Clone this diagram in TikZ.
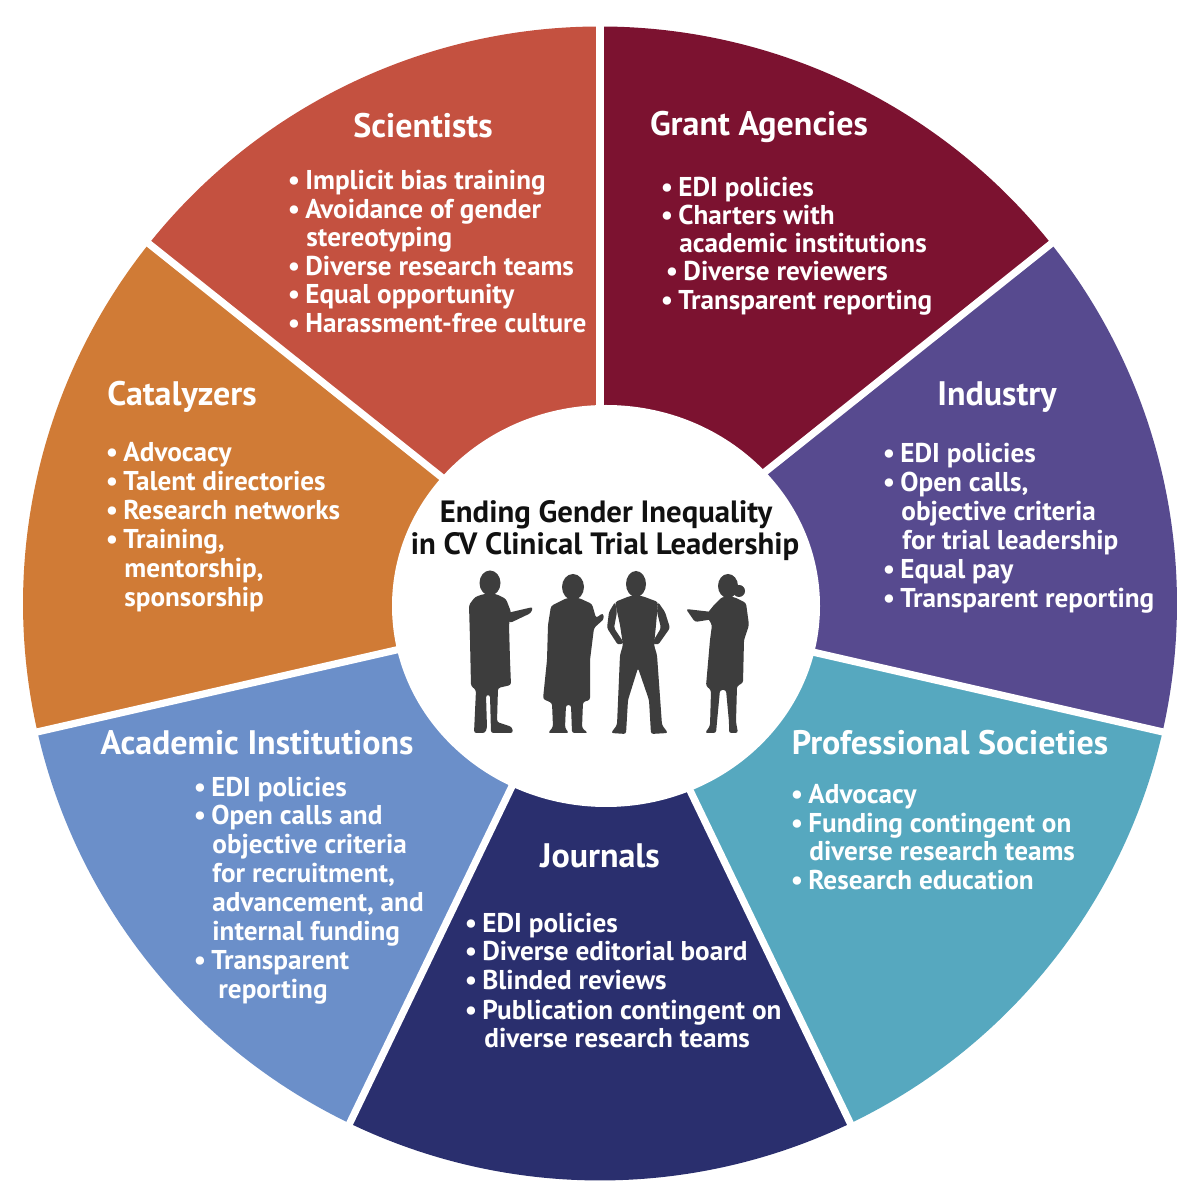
\documentclass[tikz,border=0pt]{standalone}
\usepackage{fontspec}
\setmainfont{PT Sans}
\definecolor{scic}{HTML}{C45140}
\definecolor{grac}{HTML}{7C1230}
\definecolor{indc}{HTML}{574A8F}
\definecolor{proc}{HTML}{56A8BF}
\definecolor{jouc}{HTML}{2A2F6E}
\definecolor{acac}{HTML}{6B8FC9}
\definecolor{catc}{HTML}{D07B36}
\definecolor{figgray}{HTML}{3D3D3D}
\definecolor{ttlblack}{HTML}{111111}
\tikzset{
  ttl/.style={font=\fontsize{17}{19}\selectfont\bfseries, text=white, inner sep=0pt, anchor=base},
  itm/.style={font=\fontsize{13.6}{15}\selectfont\bfseries, text=white, inner sep=0pt, anchor=base west},
  ctitle/.style={font=\fontsize{15.4}{17}\selectfont\bfseries, text=ttlblack, inner sep=0pt, anchor=base},
  silh/.style={fill=figgray, rounded corners=1.2pt},
  gapline/.style={draw=white, line width=3.6pt},
}
\newcommand\bul{\llap{\textbullet\hspace{2.6pt}}}
\newcommand\litem[4]{\node[itm] (#1) at (#2,#3) {#4};}
\begin{document}
\begin{tikzpicture}[x=0.5pt,y=0.5pt]
\useasboundingbox (0,0) rectangle (1200,1200);
\fill[white] (0,0) rectangle (1200,1200);
\coordinate (C) at (600,596.5);
% sectors
\fill[grac] (C) -- ++(90:577) arc[start angle=90, end angle=38.5714, radius=577] -- cycle;
\fill[indc] (C) -- ++(38.5714:577) arc[start angle=38.5714, end angle=-12.8571, radius=577] -- cycle;
\fill[proc] (C) -- ++(-12.8571:577) arc[start angle=-12.8571, end angle=-64.2857, radius=577] -- cycle;
\fill[jouc] (C) -- ++(-64.2857:577) arc[start angle=-64.2857, end angle=-115.7143, radius=577] -- cycle;
\fill[acac] (C) -- ++(-115.7143:577) arc[start angle=-115.7143, end angle=-167.1429, radius=577] -- cycle;
\fill[catc] (C) -- ++(-167.1429:577) arc[start angle=-167.1429, end angle=-218.5714, radius=577] -- cycle;
\fill[scic] (C) -- ++(-218.5714:577) arc[start angle=-218.5714, end angle=-270, radius=577] -- cycle;
% gaps
\foreach \a in {90,38.5714,-12.8571,-64.2857,-115.7143,-167.1429,-218.5714}
  \draw[gapline] (C) -- ++(\a:590);
% inner white disc
\fill[white] (606,594) ellipse [x radius=214, y radius=201];

\begin{scope}[y=-0.5pt, yshift=600pt]
% centre title
\node[ctitle] (title1) at (606,523) {Ending Gender Inequality};
\node[ctitle] (title2) at (605,555) {in CV Clinical Trial Leadership};

% silhouettes
% figure 1: man in lab coat with clipboard
\fill[figgray] (490,583) ellipse [x radius=10.5, y radius=12.5];
\fill[silh] (484,594) -- (496,594) -- (506,599) -- (511,612) -- (509,625) -- (510,660) -- (511,685)
  -- (498,688) -- (497,722) -- (512,727) -- (513,733) -- (491,733) -- (490,695) -- (486,695)
  -- (487,728) -- (485,733) -- (474,733) -- (476,690) -- (471,686) -- (470,640) -- (469,605) -- (475,597) -- cycle;
\fill[silh] (503,614) -- (533,607) -- (531,613) -- (510,623) -- cycle;
% figure 2: woman in lab coat
\fill[figgray] (573,587) ellipse [x radius=11, y radius=13];
\fill[silh] (567,598) -- (579,598) -- (592,604) -- (596,618) -- (603,613) -- (604,619) -- (594,628)
  -- (590,660) -- (590,700) -- (583,702) -- (582,728) -- (588,733) -- (572,733) -- (571,705)
  -- (566,705) -- (565,728) -- (569,733) -- (548,733) -- (553,727) -- (552,703) -- (543,699)
  -- (547,660) -- (548,625) -- (551,606) -- cycle;
% figure 3: man with hands on hips
\fill[figgray] (636,584) ellipse [x radius=10, y radius=13];
\fill[silh] (630,596) -- (642,596) -- (658,602) -- (656,625) -- (654,645) -- (657,655) -- (662,725)
  -- (668,733) -- (651,734) -- (649,700) -- (638,668) -- (628,700) -- (626,734) -- (611,733)
  -- (617,725) -- (620,655) -- (623,645) -- (620,625) -- (615,602) -- cycle;
\fill[silh] (615,602) -- (609,612) -- (607,628) -- (618,645) -- (624,643) -- (614,628) -- (617,612) -- cycle;
\fill[silh] (658,602) -- (665,612) -- (670,628) -- (658,645) -- (652,643) -- (661,628) -- (657,612) -- cycle;
% figure 4: woman in dress with clipboard
\fill[figgray] (728,586) ellipse [x radius=10, y radius=12];
\fill[figgray] (739,591) circle [radius=6];
\fill[silh] (722,597) -- (734,597) -- (746,603) -- (749,625) -- (744,640) -- (743,683) -- (737,686)
  -- (736,722) -- (738,733) -- (729,733) -- (729,722) -- (726,690) -- (720,690) -- (717,722)
  -- (716,733) -- (705,733) -- (710,726) -- (711,690) -- (706,686) -- (710,640) -- (712,625)
  -- (706,615) -- (714,605) -- cycle;
\fill[silh] (686,609) -- (712,612) -- (714,619) -- (695,622) -- cycle;

% Scientists
\node[ttl] (t-sci) at (423,138) {Scientists};
\litem{s1}{305}{190}{\bul Implicit bias training}
\litem{s2}{305}{218.5}{\bul Avoidance of gender}
\litem{s3}{306}{247}{stereotyping}
\litem{s4}{305}{275.5}{\bul Diverse research teams}
\litem{s5}{305}{304}{\bul Equal opportunity}
\litem{s6}{305}{332.5}{\bul Harassment-free culture}
% Grant Agencies
\node[ttl] (t-gra) at (759,136) {Grant Agencies};
\litem{g1}{678}{197}{\bul EDI policies}
\litem{g2}{678}{225}{\bul Charters with}
\litem{g3}{679}{253}{academic institutions}
\litem{g4}{683}{281}{\bul Diverse reviewers}
\litem{g5}{678}{310}{\bul Transparent reporting}
% Industry
\node[ttl] (t-ind) at (997,406) {Industry};
\litem{i1}{900}{463}{\bul EDI policies}
\litem{i2}{900}{492}{\bul Open calls,}
\litem{i3}{901}{521}{objective criteria}
\litem{i4}{902}{550}{for trial leadership}
\litem{i5}{900}{579}{\bul Equal pay}
\litem{i6}{900}{608}{\bul Transparent reporting}
% Professional Societies
\node[ttl] (t-pro) at (950,755) {Professional Societies};
\litem{p1}{808}{804}{\bul Advocacy}
\litem{p2}{808}{833}{\bul Funding contingent on}
\litem{p3}{809}{861}{diverse research teams}
\litem{p4}{808}{890}{\bul Research education}
% Journals
\node[ttl] (t-jou) at (600,868) {Journals};
\litem{j1}{482}{933}{\bul EDI policies}
\litem{j2}{482}{961}{\bul Diverse editorial board}
\litem{j3}{482}{990}{\bul Blinded reviews}
\litem{j4}{482}{1020}{\bul Publication contingent on}
\litem{j5}{484}{1048}{diverse research teams}
% Academic Institutions
\node[ttl] (t-aca) at (257,755) {Academic Institutions};
\litem{a1}{211}{797}{\bul EDI policies}
\litem{a2}{211}{825}{\bul Open calls and}
\litem{a3}{212}{854}{objective criteria}
\litem{a4}{212}{883}{for recruitment,}
\litem{a5}{212}{912}{advancement, and}
\litem{a6}{212}{941}{internal funding}
\litem{a7}{211}{970}{\bul Transparent}
\litem{a8}{218}{999}{reporting}
% Catalyzers
\node[ttl] (t-cat) at (182,406) {Catalyzers};
\litem{c1}{123}{462}{\bul Advocacy}
\litem{c2}{123}{491}{\bul Talent directories}
\litem{c3}{123}{520}{\bul Research networks}
\litem{c4}{123}{549}{\bul Training,}
\litem{c5}{124}{578}{mentorship,}
\litem{c6}{124}{607}{sponsorship}
\end{scope}
\end{tikzpicture}
\end{document}
